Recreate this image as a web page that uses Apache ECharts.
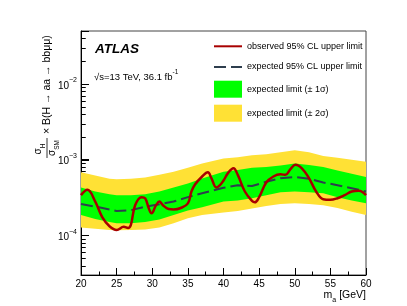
<!DOCTYPE html>
<html><head><meta charset="utf-8">
<script src="https://cdn.jsdelivr.net/npm/echarts@6/dist/echarts.min.js"></script>
<style>html,body{margin:0;padding:0;background:#fff}#c{width:407px;height:306px}</style>
</head><body><div id="c"></div>
<script>
// ---- data ----
const bandMass   = [20, 22, 24, 25, 27, 29, 31, 33, 35, 37, 40, 42, 44, 46, 48, 50, 52, 54, 56, 58, 60];
const yellowUp   = [6.8e-4, 6.2e-4, 5.6e-4, 5.5e-4, 5.6e-4, 5.8e-4, 6.3e-4, 6.9e-4, 7.8e-4, 8.9e-4, 1.04e-3, 1.08e-3, 1.14e-3, 1.18e-3, 1.25e-3, 1.33e-3, 1.25e-3, 1.12e-3, 1.06e-3, 1.0e-3, 9.4e-4];
const greenUp    = [4.3e-4, 3.8e-4, 3.5e-4, 3.4e-4, 3.4e-4, 3.5e-4, 3.8e-4, 4.3e-4, 4.85e-4, 5.65e-4, 6.9e-4, 7.3e-4, 7.8e-4, 8.0e-4, 8.4e-4, 8.9e-4, 8.5e-4, 8.0e-4, 7.2e-4, 6.5e-4, 5.9e-4];
const expected   = [2.6e-4, 2.4e-4, 2.2e-4, 2.1e-4, 2.15e-4, 2.4e-4, 2.57e-4, 2.8e-4, 3.2e-4, 3.6e-4, 4.25e-4, 4.6e-4, 4.5e-4, 5.1e-4, 5.7e-4, 5.9e-4, 5.6e-4, 5.0e-4, 4.6e-4, 4.2e-4, 3.8e-4];
const greenDown  = [1.86e-4, 1.65e-4, 1.5e-4, 1.45e-4, 1.45e-4, 1.5e-4, 1.62e-4, 1.86e-4, 2.13e-4, 2.36e-4, 2.8e-4, 2.9e-4, 3.1e-4, 3.4e-4, 3.7e-4, 3.8e-4, 3.7e-4, 3.6e-4, 3.2e-4, 2.9e-4, 2.65e-4];
const yellowDown = [1.27e-4, 1.22e-4, 1.18e-4, 1.17e-4, 1.18e-4, 1.2e-4, 1.27e-4, 1.45e-4, 1.68e-4, 1.86e-4, 2.0e-4, 2.1e-4, 2.27e-4, 2.45e-4, 2.6e-4, 2.65e-4, 2.6e-4, 2.5e-4, 2.3e-4, 2.05e-4, 1.86e-4];

const obsMass  = [20, 20.9, 22, 23, 24, 25, 26, 26.6, 27, 27.6, 28.5, 29, 29.5, 29.9, 30.5, 31, 31.5, 32.3, 33, 34, 35, 35.5, 36, 37, 37.8, 38.3, 39, 39.5, 40, 40.7, 41.4, 42, 43, 44, 44.4, 45, 46, 47, 48, 48.7, 49.4, 50.1, 51, 52, 53, 54, 55, 56, 57, 58, 59, 60];
const observed = [3.4e-4, 4.0e-4, 2.8e-4, 1.73e-4, 1.32e-4, 1.18e-4, 1.3e-4, 1.25e-4, 1.38e-4, 2.5e-4, 3.2e-4, 3.1e-4, 2.3e-4, 1.96e-4, 2.47e-4, 2.8e-4, 2.5e-4, 2.23e-4, 2.2e-4, 2.3e-4, 2.65e-4, 3.8e-4, 4.7e-4, 6.0e-4, 6.8e-4, 5.7e-4, 4.3e-4, 4.6e-4, 5.3e-4, 6.8e-4, 7.7e-4, 6.3e-4, 3.8e-4, 2.85e-4, 2.73e-4, 3.2e-4, 5.0e-4, 6.0e-4, 6.4e-4, 6.3e-4, 7.5e-4, 8.6e-4, 7.7e-4, 5.7e-4, 3.8e-4, 3.0e-4, 2.95e-4, 3.1e-4, 3.4e-4, 3.8e-4, 3.9e-4, 3.4e-4];

const yMin = 3e-5, yMax = 0.05;
const yMajorTicks = [1e-4, 1e-3, 1e-2];
const yMinorTicks = [4e-5,5e-5,6e-5,7e-5,8e-5,9e-5, 2e-4,3e-4,4e-4,5e-4,6e-4,7e-4,8e-4,9e-4, 2e-3,3e-3,4e-3,5e-3,6e-3,7e-3,8e-3,9e-3, 2e-2,3e-2,4e-2];

const names = ['observed 95% CL upper limit', 'expected 95% CL upper limit', 'expected limit (± 1σ)', 'expected limit (± 2σ)'];
// ---- chart ----
const FONT = 'Liberation Sans, Arial, Helvetica, sans-serif';
const chart = echarts.init(document.getElementById('c'), null, {renderer: 'canvas'});

function band(name, up, down, color) {
  return {
    type: 'custom', name: name, silent: true, z: 2,
    itemStyle: {color: color},
    data: bandMass.map((m, i) => [m, up[i], down[i]]),
    encode: {x: 0, y: [1, 2]},
    renderItem: function (params, api) {
      if (params.dataIndex !== 0) return null;
      const pts = [];
      for (let i = 0; i < bandMass.length; i++) pts.push(api.coord([bandMass[i], up[i]]));
      for (let i = bandMass.length - 1; i >= 0; i--) pts.push(api.coord([bandMass[i], down[i]]));
      return {type: 'polygon', shape: {points: pts}, style: {fill: color}};
    }
  };
}
// y-axis tick marks at the log scale positions, inside the frame, beneath the bands
function yTicks(vals, len) {
  return {
    type: 'custom', silent: true, z: 1, clip: false,
    data: vals.map(v => [20, v]),
    encode: {x: 0, y: 1},
    renderItem: function (params, api) {
      const p = api.coord([20, api.value(1)]);
      const y = Math.round(p[1]) + 0.5;
      return {type: 'line', shape: {x1: p[0], y1: y, x2: p[0] + len, y2: y}, style: {stroke: '#000', lineWidth: 1, opacity: 1}};
    }
  };
}

const yLabelFmt = function (v) {
  const e = Math.round(Math.log10(v));
  return '{b|10}{s|' + (e < 0 ? '−' : '') + Math.abs(e) + '}';
};
const txt = (size, extra) => Object.assign({fontSize: size, fontFamily: FONT, color: '#000', fill: '#000'}, extra || {});

const staticGraphics = [
  {type: 'text', left: 95, top: 42, style: {text: 'ATLAS', font: 'italic bold 13.5px ' + FONT, fill: '#000'}},
  {type: 'text', left: 94, top: 69, style: {
    text: '{n|√s=13 TeV, 36.1 fb}{sup|-1}',
    rich: {n: txt(9.5, {verticalAlign: 'bottom', lineHeight: 13}), sup: txt(6.5, {verticalAlign: 'top', lineHeight: 7})}
  }},
  {type: 'text', right: 41, top: 290, style: {
    text: '{n|m}{sub|a}{n| [GeV]}',
    rich: {n: txt(10.5, {verticalAlign: 'top', lineHeight: 12}), sub: txt(7, {verticalAlign: 'bottom', lineHeight: 14})}
  }},
  {
    type: 'group', x: 47, y: 160, rotation: Math.PI / 2,
    children: [
      {type: 'text', x: 11, y: -7, style: {text: '{n|σ}{sub|H}', align: 'center', verticalAlign: 'middle',
        rich: {n: txt(10, {verticalAlign: 'top', lineHeight: 11}), sub: txt(6.5, {verticalAlign: 'bottom', lineHeight: 13})}}},
      {type: 'line', shape: {x1: 2, y1: 0, x2: 22, y2: 0}, style: {stroke: '#000', lineWidth: 0.8}},
      {type: 'text', x: 12, y: 7, style: {text: '{n|σ}{sub|SM}', align: 'center', verticalAlign: 'middle',
        rich: {n: txt(10, {verticalAlign: 'top', lineHeight: 11}), sub: txt(6.5, {verticalAlign: 'bottom', lineHeight: 13})}}},
      {type: 'text', x: 26, y: 0, style: {text: '× B(H → aa → bbμμ)', font: '10.5px ' + FONT, fill: '#000', align: 'left', verticalAlign: 'middle'}}
    ]
  }
];

chart.setOption({
  animation: false,
  grid: {left: 81, right: 41, top: 31, bottom: 31, show: true, borderColor: '#444', borderWidth: 1, backgroundColor: 'transparent'},
  xAxis: {
    type: 'value', min: 20, max: 60, interval: 5,
    axisLine: {show: true, lineStyle: {color: '#000', width: 1}},
    axisTick: {show: true, inside: true, length: 7, lineStyle: {color: '#000', width: 1}},
    minorTick: {show: true, splitNumber: 2, length: 3.5, lineStyle: {color: '#000', width: 1}},
    splitLine: {show: false},
    axisLabel: {color: '#000', fontSize: 10, fontFamily: FONT, margin: 4}
  },
  yAxis: {
    type: 'log', logBase: 10, min: yMin, max: yMax,
    axisLine: {show: true, lineStyle: {color: '#000', width: 1}},
    axisTick: {show: true, inside: true, length: 8, lineStyle: {color: '#000', width: 1}},
    splitLine: {show: false},
    axisLabel: {
      customValues: yMajorTicks, formatter: yLabelFmt, margin: 4,
      rich: {
        b: txt(10, {verticalAlign: 'bottom', lineHeight: 14}),
        s: txt(7, {verticalAlign: 'top', lineHeight: 8})
      }
    }
  },
  legend: {
    orient: 'vertical', left: 213, top: 39.5, padding: 0, itemWidth: 28, itemHeight: 17, itemGap: 7,
    selectedMode: false,
    textStyle: {fontSize: 9, fontFamily: FONT, color: '#000'},
    data: [
      {name: names[0], itemStyle: {opacity: 0}},
      {name: names[1], itemStyle: {opacity: 0}},
      {name: names[2], icon: 'rect'},
      {name: names[3], icon: 'rect'}
    ]
  },
  series: [
    yTicks(yMajorTicks, 8),
    yTicks(yMinorTicks, 4.5),
    band(names[3], yellowUp, yellowDown, '#ffe135'),
    band(names[2], greenUp, greenDown, '#00ff00'),
    {
      type: 'line', name: names[1], symbol: 'none', z: 3,
      data: bandMass.map((m, i) => [m, expected[i]]),
      lineStyle: {color: '#2e3e4e', width: 2, type: [12, 5]},
      itemStyle: {color: '#2e3e4e'}
    },
    {
      type: 'line', name: names[0], symbol: 'none', smooth: 0.4, z: 4,
      data: obsMass.map((m, i) => [m, observed[i]]),
      lineStyle: {color: '#a80000', width: 2.5},
      itemStyle: {color: '#a80000'}
    }
  ],
  graphic: staticGraphics
});

// same tick marks also placed via the axis' own convertToPixel (identical positions)
const x0 = chart.convertToPixel({xAxisIndex: 0}, 20);
const tickEl = (v, len) => {
  const y = Math.round(chart.convertToPixel({yAxisIndex: 0}, v)) + 0.5;
  return {type: 'line', silent: true, shape: {x1: x0, y1: y, x2: x0 + len, y2: y}, style: {stroke: '#000', lineWidth: 1}};
};
if (isFinite(x0)) {
  chart.setOption({
    graphic: staticGraphics.concat(
      yMajorTicks.map(v => tickEl(v, 8)),
      yMinorTicks.map(v => tickEl(v, 4.5))
    )
  }, {replaceMerge: ['graphic']});
}
</script>
</body></html>
